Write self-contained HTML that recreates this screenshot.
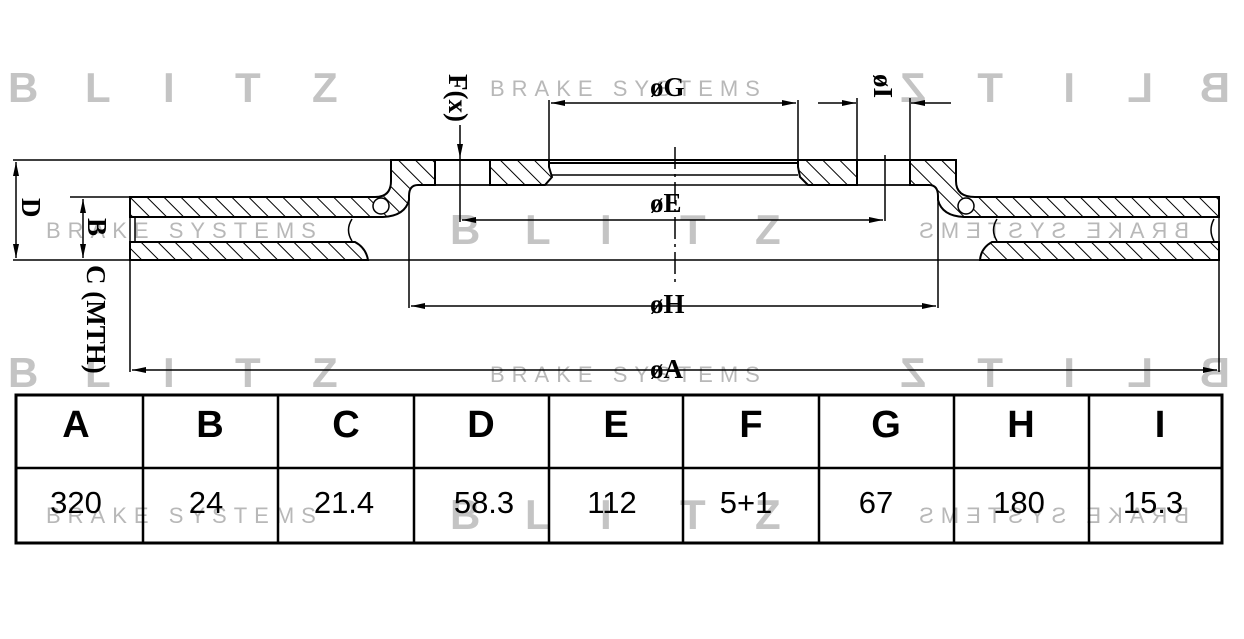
<!DOCTYPE html>
<html><head><meta charset="utf-8"><style>
html,body{margin:0;padding:0;background:#fff;}
svg{display:block;}
.wm{font-family:"Liberation Sans",sans-serif;font-weight:bold;fill:#c4c4c4;font-size:42px;}
.bs{font-family:"Liberation Sans",sans-serif;fill:#b8b8b8;font-size:22px;letter-spacing:7px;}
.lb{font-family:"Liberation Serif",serif;font-weight:bold;fill:#000;font-size:27px;}
.th{font-family:"Liberation Sans",sans-serif;font-weight:bold;font-size:38px;fill:#000;text-anchor:middle;}
.td{font-family:"Liberation Sans",sans-serif;font-size:31px;fill:#000;text-anchor:middle;}
</style></head><body>
<svg width="1244" height="639" viewBox="0 0 1244 639" xmlns="http://www.w3.org/2000/svg">
<defs>
<pattern id="h" patternUnits="userSpaceOnUse" width="12" height="12" patternTransform="rotate(-45)">
<rect width="12" height="12" fill="#fff"/><line x1="0" y1="0" x2="0" y2="12" stroke="#000" stroke-width="2"/>
</pattern>
<marker id="ar" markerWidth="14" markerHeight="6" refX="14" refY="3" orient="auto" markerUnits="userSpaceOnUse"><path d="M0,0 L14,3 L0,6 Z" fill="#000"/></marker>
<marker id="al" markerWidth="14" markerHeight="6" refX="0" refY="3" orient="auto" markerUnits="userSpaceOnUse"><path d="M14,0 L0,3 L14,6 Z" fill="#000"/></marker>
</defs>

<g class="wm">
<text x="8" y="102">B</text><text x="85" y="102">L</text><text x="163" y="102">I</text><text x="235" y="102">T</text><text x="312" y="102">Z</text>
<text x="8" y="387">B</text><text x="85" y="387">L</text><text x="163" y="387">I</text><text x="235" y="387">T</text><text x="312" y="387">Z</text>
<text x="450" y="244">B</text><text x="525" y="244">L</text><text x="600" y="244">I</text><text x="680" y="244">T</text><text x="755" y="244">Z</text>
<text x="450" y="529">B</text><text x="525" y="529">L</text><text x="600" y="529">I</text><text x="680" y="529">T</text><text x="755" y="529">Z</text>
<g transform="translate(1244,0) scale(-1,1)">
<text x="14" y="102">B</text><text x="91" y="102">L</text><text x="169" y="102">I</text><text x="241" y="102">T</text><text x="318" y="102">Z</text>
<text x="14" y="387">B</text><text x="91" y="387">L</text><text x="169" y="387">I</text><text x="241" y="387">T</text><text x="318" y="387">Z</text>
</g></g>
<g class="bs">
<text x="490" y="96">BRAKE SYSTEMS</text>
<text x="490" y="382">BRAKE SYSTEMS</text>
<text x="46" y="238">BRAKE SYSTEMS</text>
<text x="46" y="523">BRAKE SYSTEMS</text>
<g transform="translate(1244,0) scale(-1,1)">
<text x="55" y="238">BRAKE SYSTEMS</text>
<text x="55" y="523">BRAKE SYSTEMS</text>
</g></g>

<g stroke="#000" fill="none" stroke-width="1.5">
<line x1="13" y1="160" x2="391" y2="160"/>
<line x1="13" y1="260" x2="1220" y2="260"/>
<line x1="70" y1="197" x2="130" y2="197"/>
<line x1="16" y1="162" x2="16" y2="258" marker-start="url(#al)" marker-end="url(#ar)"/>
<line x1="83" y1="199" x2="83" y2="258" marker-start="url(#al)" marker-end="url(#ar)"/>
<line x1="130" y1="197" x2="130" y2="372"/>
<line x1="1219" y1="197" x2="1219" y2="372"/>
<line x1="132" y1="370" x2="1217" y2="370" marker-start="url(#al)" marker-end="url(#ar)"/>
<line x1="391" y1="160" x2="956" y2="160" stroke-width="2"/>
<line x1="549" y1="163" x2="798" y2="163" stroke-width="2"/>
<line x1="549" y1="175" x2="798" y2="175"/>
<line x1="409" y1="185" x2="938" y2="185"/>
<line x1="409" y1="185" x2="409" y2="308"/>
<line x1="938" y1="185" x2="938" y2="308"/>
<line x1="411" y1="306" x2="936" y2="306" marker-start="url(#al)" marker-end="url(#ar)"/>
<line x1="460" y1="125" x2="460" y2="158" marker-end="url(#ar)"/>
<line x1="460" y1="158" x2="460" y2="222"/>
<line x1="462" y1="220" x2="883" y2="220" marker-start="url(#al)" marker-end="url(#ar)"/>
<line x1="885" y1="155" x2="885" y2="221"/>
<line x1="549" y1="100" x2="549" y2="160"/>
<line x1="798" y1="100" x2="798" y2="160"/>
<line x1="551" y1="103" x2="796" y2="103" marker-start="url(#al)" marker-end="url(#ar)"/>
<line x1="857" y1="98" x2="857" y2="185"/>
<line x1="910" y1="98" x2="910" y2="185"/>
<line x1="818" y1="103" x2="856" y2="103" marker-end="url(#ar)"/>
<line x1="951" y1="103" x2="911" y2="103" marker-end="url(#ar)"/>
<line x1="675" y1="147" x2="675" y2="282" stroke-dasharray="22,5,3,5"/>
</g>

<g stroke="#000" stroke-width="2" fill="url(#h)">
<path d="M130,197 L375,197 Q391,197 391,181 L391,160 L435,160 L435,185 L418,185 Q409,185 409,196 L409,200 Q405,216 383,217 L130,217 Z"/>
<path d="M130,242 L355,242 Q366,248 368,260 L130,260 Z"/>
<path d="M490,160 L549,160 L549,167 L552,177 L545,185 L490,185 Z"/>
<path d="M1219,197 L975,197 Q956,197 956,181 L956,160 L910,160 L910,185 L929,185 Q938,185 938,196 L938,200 Q942,216 964,217 L1219,217 Z"/>
<path d="M1219,242 L992,242 Q981,248 980,260 L1219,260 Z"/>
<path d="M798,160 L857,160 L857,185 L808,185 L800,177 L798,167 Z"/>
</g>
<g stroke="#000" stroke-width="1.5" fill="#fff">
<circle cx="381" cy="206" r="8"/>
<circle cx="966" cy="206" r="8"/>
<path d="M135,217 L135,242" fill="none"/>
<path d="M352,219 Q345,230 352,241" fill="none"/>
<path d="M1214,219 Q1208,230 1214,241" fill="none"/>
<path d="M997,219 Q990,230 997,241" fill="none"/>
<rect x="435" y="160" width="55" height="25" fill="none"/>
<rect x="857" y="160" width="53" height="25" fill="none"/>
</g>

<text class="lb" x="650" y="96">øG</text>
<text class="lb" x="650" y="212">øE</text>
<text class="lb" x="650" y="313">øH</text>
<text class="lb" x="650" y="378">øA</text>
<text class="lb" transform="translate(449,74) rotate(90)">F(x)</text>
<text class="lb" transform="translate(874,74) rotate(90)">øI</text>
<text class="lb" transform="translate(22,198) rotate(90)">D</text>
<text class="lb" transform="translate(88,218) rotate(90)">B</text>
<text class="lb" transform="translate(87,265) rotate(90)">C (MTH)</text>

<g stroke="#000" fill="none">
<rect x="16" y="395" width="1206" height="148" stroke-width="3"/>
<line x1="16" y1="468" x2="1222" y2="468" stroke-width="2.5"/>
<line x1="143" y1="395" x2="143" y2="543" stroke-width="2.5"/>
<line x1="278" y1="395" x2="278" y2="543" stroke-width="2.5"/>
<line x1="414" y1="395" x2="414" y2="543" stroke-width="2.5"/>
<line x1="549" y1="395" x2="549" y2="543" stroke-width="2.5"/>
<line x1="683" y1="395" x2="683" y2="543" stroke-width="2.5"/>
<line x1="819" y1="395" x2="819" y2="543" stroke-width="2.5"/>
<line x1="954" y1="395" x2="954" y2="543" stroke-width="2.5"/>
<line x1="1089" y1="395" x2="1089" y2="543" stroke-width="2.5"/>
</g>
<g class="th">
<text x="76" y="437">A</text><text x="210" y="437">B</text><text x="346" y="437">C</text><text x="481" y="437">D</text><text x="616" y="437">E</text><text x="751" y="437">F</text><text x="886" y="437">G</text><text x="1021" y="437">H</text><text x="1160" y="437">I</text>
</g>
<g class="td">
<text x="76" y="513">320</text><text x="206" y="513">24</text><text x="344" y="513">21.4</text><text x="484" y="513">58.3</text><text x="612" y="513">112</text><text x="746" y="513">5+1</text><text x="876" y="513">67</text><text x="1019" y="513">180</text><text x="1153" y="513">15.3</text>
</g>
</svg>
</body></html>
